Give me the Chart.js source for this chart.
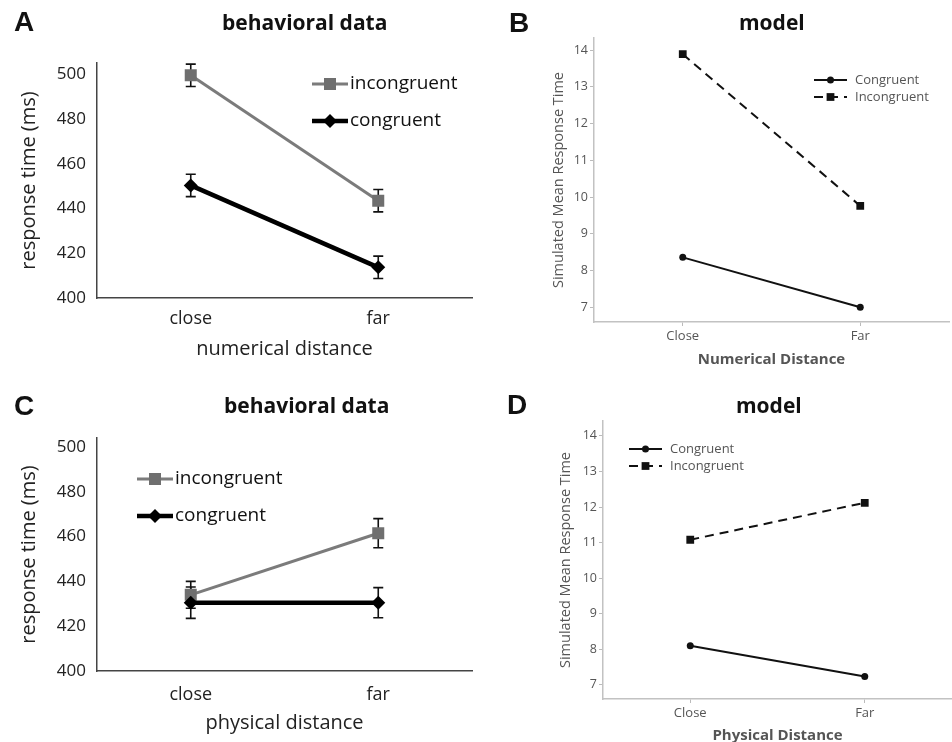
<!DOCTYPE html>
<html>
<head>
<meta charset="utf-8">
<script src="https://cdn.jsdelivr.net/npm/chart.js@4.4.1/dist/chart.umd.min.js"></script>
<style>
body { margin: 0; background: #fff; }
#fig { position: relative; width: 952px; height: 742px; overflow: hidden; font-family: "Open Sans", sans-serif; }
.panel { position: absolute; width: 476px; height: 371px; }
.letter { position: absolute; font-family: "Liberation Sans", Arial, sans-serif; font-weight: bold; font-size: 28px; line-height: 1; color: #111; }
.title { position: absolute; font-weight: bold; font-size: 21px; line-height: 1; color: #111; white-space: nowrap; }
</style>
</head>
<body>
<div id="fig">
  <div class="panel" style="left:0;top:0"><canvas id="chartA" width="476" height="371"></canvas></div>
  <div class="panel" style="left:476px;top:0"><canvas id="chartB" width="476" height="371"></canvas></div>
  <div class="panel" style="left:0;top:371px"><canvas id="chartC" width="476" height="371"></canvas></div>
  <div class="panel" style="left:476px;top:371px"><canvas id="chartD" width="476" height="371"></canvas></div>

  <div class="letter" style="left:14px;top:8px">A</div>
  <div class="letter" style="left:509px;top:9px">B</div>
  <div class="letter" style="left:14px;top:392px">C</div>
  <div class="letter" style="left:507px;top:391px">D</div>

  <div class="title" style="left:222px;top:12px">behavioral data</div>
  <div class="title" style="left:739px;top:12px">model</div>
  <div class="title" style="left:224px;top:395px">behavioral data</div>
  <div class="title" style="left:736px;top:395px">model</div>
</div>
<script>
// categories
const distCats = ['close', 'far'];
const modelCats = ['Close', 'Far'];

// A: numerical distance, behavioral (ms)
const numIncongruent = [499.5, 443.5];
const numIncongruentErr = [5, 5];
const numCongruent = [450.3, 413.7];
const numCongruentErr = [5, 5];

// C: physical distance, behavioral (ms)
const physIncongruent = [434, 461.5];
const physIncongruentErr = [6, 6.5];
const physCongruent = [430.5, 430.5];
const physCongruentErr = [7, 6.7];

// B: numerical distance, model
const modelNumCongruent = [8.36, 7.0];
const modelNumIncongruent = [13.89, 9.76];

// D: physical distance, model
const modelPhysCongruent = [8.1, 7.23];
const modelPhysIncongruent = [11.08, 12.12];

Chart.defaults.font.family = '"Open Sans", sans-serif';

// vertical error bars, drawn under the markers
const errorBarPlugin = {
    id: 'errorBars',
    beforeDatasetsDraw(chart) {
        const ctx = chart.ctx;
        const x = chart.scales.x, y = chart.scales.y;
        chart.data.datasets.forEach((ds, i) => {
            if (!ds.errors) return;
            ctx.save();
            ctx.strokeStyle = '#111';
            ctx.lineWidth = 1.6;
            ds.data.forEach((v, j) => {
                const px = x.getPixelForValue(j);
                const top = y.getPixelForValue(v + ds.errors[j]);
                const bot = y.getPixelForValue(v - ds.errors[j]);
                ctx.beginPath();
                ctx.moveTo(px, top); ctx.lineTo(px, bot);
                ctx.moveTo(px - 5, top); ctx.lineTo(px + 5, top);
                ctx.moveTo(px - 5, bot); ctx.lineTo(px + 5, bot);
                ctx.stroke();
            });
            ctx.restore();
        });
    }
};

// legend drawn inside the plot area
const panelLegendPlugin = {
    id: 'panelLegend',
    afterDraw(chart, args, opts) {
        if (opts.x === undefined) return;
        const ctx = chart.ctx;
        chart.data.datasets.forEach((ds, i) => {
            const y = opts.y + i * opts.rowGap;
            ctx.save();
            ctx.strokeStyle = ds.borderColor;
            ctx.lineWidth = ds.borderWidth;
            ctx.setLineDash(ds.borderDash || []);
            ctx.beginPath();
            ctx.moveTo(opts.x, y);
            ctx.lineTo(opts.x + opts.lineLen, y);
            ctx.stroke();
            ctx.setLineDash([]);
            ctx.fillStyle = ds.backgroundColor;
            Chart.helpers.drawPoint(ctx, {
                pointStyle: ds.pointStyle, radius: ds.pointRadius, rotation: 0, borderWidth: 0
            }, opts.x + opts.lineLen / 2, y);
            ctx.fillStyle = opts.color;
            ctx.font = opts.font;
            ctx.textBaseline = 'middle';
            ctx.fillText(ds.label, opts.x + opts.lineLen + opts.gap, y);
            ctx.restore();
        });
    }
};

Chart.register(errorBarPlugin, panelLegendPlugin);

function behavioralChart(id, incVals, incErr, conVals, conErr, xTitle, yMax, top, xHeight, tickPad, titlePad, legend) {
    return new Chart(document.getElementById(id), {
        type: 'line',
        data: {
            labels: distCats,
            datasets: [{
                label: 'incongruent',
                data: incVals,
                errors: incErr,
                borderColor: '#7b7b7b',
                backgroundColor: '#6f6f6f',
                borderWidth: 3,
                pointStyle: 'rect',
                pointRadius: 8.5,
                pointBorderWidth: 0,
                order: 1
            }, {
                label: 'congruent',
                data: conVals,
                errors: conErr,
                borderColor: '#000',
                backgroundColor: '#000',
                borderWidth: 4.5,
                pointStyle: 'rectRot',
                pointRadius: 7,
                pointBorderWidth: 0,
                order: 0
            }]
        },
        options: {
            responsive: false,
            animation: false,
            layout: { autoPadding: false, padding: { top: top, right: 4, left: 0, bottom: 0 } },
            plugins: {
                legend: { display: false },
                tooltip: { enabled: false },
                panelLegend: Object.assign({ lineLen: 36, gap: 2, rowGap: 37, color: '#111', font: '19px "Open Sans"' }, legend)
            },
            scales: {
                x: {
                    offset: true,
                    grid: { display: false, drawTicks: false },
                    border: { color: '#444', width: 1.5 },
                    ticks: { color: '#222', font: { size: 18 }, padding: tickPad },
                    title: { display: true, text: xTitle, color: '#222', font: { size: 20 }, padding: { top: 0, bottom: titlePad } },
                    afterFit(s) { s.height = xHeight; }
                },
                y: {
                    min: 400,
                    max: yMax,
                    grid: { display: false, drawTicks: false },
                    border: { color: '#444', width: 1.5 },
                    ticks: { stepSize: 20, includeBounds: false, color: '#222', font: { size: 17 }, padding: 11 },
                    title: { display: true, text: 'response time (ms)', color: '#222', font: { size: 20 }, padding: { top: 17, bottom: 0 } },
                    afterFit(s) { s.width = 97; }
                }
            }
        }
    });
}

function modelChart(id, conVals, incVals, xTitle, yMax, top, right, yWidth, xHeight, titlePad, xTitlePad, legend) {
    return new Chart(document.getElementById(id), {
        type: 'line',
        data: {
            labels: modelCats,
            datasets: [{
                label: 'Congruent',
                data: conVals,
                borderColor: '#111',
                backgroundColor: '#111',
                borderWidth: 2,
                pointStyle: 'circle',
                pointRadius: 3.5,
                pointBorderWidth: 0
            }, {
                label: 'Incongruent',
                data: incVals,
                borderColor: '#111',
                backgroundColor: '#111',
                borderWidth: 2,
                borderDash: [9, 6],
                pointStyle: 'rect',
                pointRadius: 5.5,
                pointBorderWidth: 0
            }]
        },
        options: {
            responsive: false,
            animation: false,
            layout: { autoPadding: false, padding: { top: top, right: right, left: 0, bottom: 0 } },
            plugins: {
                legend: { display: false },
                tooltip: { enabled: false },
                panelLegend: Object.assign({ lineLen: 33, gap: 8, rowGap: 17, color: '#555', font: '13px "Open Sans"' }, legend)
            },
            scales: {
                x: {
                    offset: true,
                    grid: { offset: false, drawOnChartArea: false, color: '#bbb', tickLength: 4 },
                    border: { color: '#c2c2c2', width: 1.5 },
                    ticks: { color: '#555', font: { size: 13 }, padding: 2 },
                    title: { display: true, text: xTitle, color: '#555', font: { size: 15, weight: 'bold' }, padding: { top: 0, bottom: xTitlePad } },
                    afterFit(s) { s.height = xHeight; }
                },
                y: {
                    min: 6.6,
                    max: yMax,
                    grid: { drawOnChartArea: false, color: '#bbb', tickLength: 4 },
                    border: { color: '#c2c2c2', width: 1.5 },
                    ticks: { stepSize: 1, includeBounds: false, color: '#555', font: { size: 12.5 }, padding: 2 },
                    title: { display: true, text: 'Simulated Mean Response Time', color: '#555', font: { size: 14.5 }, padding: { top: titlePad, bottom: 0 } },
                    afterFit(s) { s.width = yWidth; }
                }
            }
        }
    });
}

behavioralChart('chartA', numIncongruent, numIncongruentErr, numCongruent, numCongruentErr,
    'numerical distance', 505, 63, 73, 10, 10, { x: 312, y: 84 });
behavioralChart('chartC', physIncongruent, physIncongruentErr, physCongruent, physCongruentErr,
    'physical distance', 504, 67, 71, 13, 7, { x: 137, y: 108 });
modelChart('chartB', modelNumCongruent, modelNumIncongruent, 'Numerical Distance',
    14.33, 38, 3, 118, 49, 74, 2, { x: 338, y: 80 });
modelChart('chartD', modelPhysCongruent, modelPhysIncongruent, 'Physical Distance',
    14.42, 50, 0, 127, 43, 81, -3, { x: 153, y: 78 });
</script>
</body>
</html>
